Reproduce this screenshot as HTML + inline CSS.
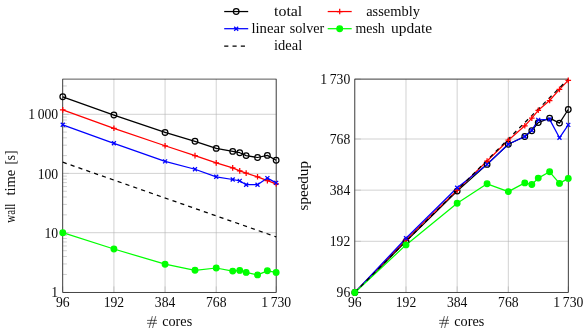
<!DOCTYPE html>
<html><head><meta charset="utf-8"><title>scaling</title>
<style>
html,body{margin:0;padding:0;background:#fff;}
body{width:588px;height:333px;overflow:hidden;}
svg{display:block;will-change:transform;}
text{font-family:"Liberation Serif",serif;font-size:14.1px;fill:#0a0a0a;}
</style></head><body>
<svg width="588" height="333" viewBox="0 0 588 333">
<rect width="588" height="333" fill="#fff"/>
<path d="M62.76 79.08V292.45M113.92 79.08V292.45M165.07 79.08V292.45M216.23 79.08V292.45M276.16 79.08V292.45M62.76 292.45H276.16M62.76 232.7H276.16M62.76 173.4H276.16M62.76 114.3H276.16" stroke="#b4b4b4" stroke-width="0.6" fill="none"/>
<path d="M62.76 292.45v-6M113.92 292.45v-6M165.07 292.45v-6M216.23 292.45v-6M276.16 292.45v-6M62.76 292.45h6M62.76 232.7h6M62.76 173.4h6M62.76 114.3h6M62.76 274.46h4.1M62.76 263.94h4.1M62.76 256.48h4.1M62.76 250.69h4.1M62.76 245.96h4.1M62.76 241.96h4.1M62.76 238.49h4.1M62.76 235.43h4.1M62.76 214.85h4.1M62.76 204.41h4.1M62.76 197h4.1M62.76 191.25h4.1M62.76 186.56h4.1M62.76 182.59h4.1M62.76 179.15h4.1M62.76 176.11h4.1M62.76 155.61h4.1M62.76 145.2h4.1M62.76 137.82h4.1M62.76 132.09h4.1M62.76 127.41h4.1M62.76 123.45h4.1M62.76 120.03h4.1M62.76 117h4.1M62.76 96.42h4.1M62.76 85.96h4.1" stroke="#b0b0b0" stroke-width="0.6" fill="none"/>
<rect x="62.76" y="79.08" width="213.4" height="213.37" fill="none" stroke="#000" stroke-width="0.66"/>
<polyline points="62.76,96.8 113.92,115.05 165.07,132.45 195,141.3 216.23,148.4 232.69,151.4 239.73,152.7 246.15,155.6 257.53,157.5 267.38,155.4 276.16,160.3" fill="none" stroke="#000" stroke-width="1.25" stroke-linejoin="round"/>
<polyline points="62.76,109.9 113.92,128.3 165.07,145.75 195,155.6 216.23,162.9 232.69,167.9 239.73,170.9 246.15,173.1 257.53,176.8 267.38,180.6 276.16,183.8" fill="none" stroke="#f00" stroke-width="1.25" stroke-linejoin="round"/>
<polyline points="62.76,124.8 113.92,143.3 165.07,161.4 195,169.25 216.23,176.8 232.69,179.5 239.73,180.85 246.15,184.7 257.53,184.7 267.38,178.1 276.16,182.9" fill="none" stroke="#00f" stroke-width="1.25" stroke-linejoin="round"/>
<polyline points="62.76,232.7 113.92,249 165.07,264.2 195,270.3 216.23,268 232.69,271.1 239.73,270.4 246.15,272.4 257.53,274.9 267.38,270.8 276.16,272.4" fill="none" stroke="#0f0" stroke-width="1.25" stroke-linejoin="round"/>
<path d="M62.76 162.2L276.16 236.86" stroke="#000" stroke-width="1.25" stroke-dasharray="4.152 4.152" fill="none"/>
<circle cx="62.76" cy="96.8" r="2.82" fill="none" stroke="#000" stroke-width="1.25"/><circle cx="113.92" cy="115.05" r="2.82" fill="none" stroke="#000" stroke-width="1.25"/><circle cx="165.07" cy="132.45" r="2.82" fill="none" stroke="#000" stroke-width="1.25"/><circle cx="195" cy="141.3" r="2.82" fill="none" stroke="#000" stroke-width="1.25"/><circle cx="216.23" cy="148.4" r="2.82" fill="none" stroke="#000" stroke-width="1.25"/><circle cx="232.69" cy="151.4" r="2.82" fill="none" stroke="#000" stroke-width="1.25"/><circle cx="239.73" cy="152.7" r="2.82" fill="none" stroke="#000" stroke-width="1.25"/><circle cx="246.15" cy="155.6" r="2.82" fill="none" stroke="#000" stroke-width="1.25"/><circle cx="257.53" cy="157.5" r="2.82" fill="none" stroke="#000" stroke-width="1.25"/><circle cx="267.38" cy="155.4" r="2.82" fill="none" stroke="#000" stroke-width="1.25"/><circle cx="276.16" cy="160.3" r="2.82" fill="none" stroke="#000" stroke-width="1.25"/>
<path d="M59.94 109.9H65.58M62.76 107.08V112.72" stroke="#f00" stroke-width="1.25" fill="none"/><path d="M111.1 128.3H116.74M113.92 125.48V131.12" stroke="#f00" stroke-width="1.25" fill="none"/><path d="M162.25 145.75H167.89M165.07 142.93V148.57" stroke="#f00" stroke-width="1.25" fill="none"/><path d="M192.18 155.6H197.82M195 152.78V158.42" stroke="#f00" stroke-width="1.25" fill="none"/><path d="M213.41 162.9H219.05M216.23 160.08V165.72" stroke="#f00" stroke-width="1.25" fill="none"/><path d="M229.87 167.9H235.51M232.69 165.08V170.72" stroke="#f00" stroke-width="1.25" fill="none"/><path d="M236.91 170.9H242.55M239.73 168.08V173.72" stroke="#f00" stroke-width="1.25" fill="none"/><path d="M243.33 173.1H248.97M246.15 170.28V175.92" stroke="#f00" stroke-width="1.25" fill="none"/><path d="M254.71 176.8H260.35M257.53 173.98V179.62" stroke="#f00" stroke-width="1.25" fill="none"/><path d="M264.56 180.6H270.2M267.38 177.78V183.42" stroke="#f00" stroke-width="1.25" fill="none"/><path d="M273.34 183.8H278.98M276.16 180.98V186.62" stroke="#f00" stroke-width="1.25" fill="none"/>
<path d="M60.77 122.81L64.75 126.79M60.77 126.79L64.75 122.81" stroke="#00f" stroke-width="1.25" fill="none"/><path d="M111.92 141.31L115.91 145.29M111.92 145.29L115.91 141.31" stroke="#00f" stroke-width="1.25" fill="none"/><path d="M163.08 159.41L167.07 163.39M163.08 163.39L167.07 159.41" stroke="#00f" stroke-width="1.25" fill="none"/><path d="M193 167.26L196.99 171.24M193 171.24L196.99 167.26" stroke="#00f" stroke-width="1.25" fill="none"/><path d="M214.23 174.81L218.22 178.79M214.23 178.79L218.22 174.81" stroke="#00f" stroke-width="1.25" fill="none"/><path d="M230.7 177.51L234.69 181.49M230.7 181.49L234.69 177.51" stroke="#00f" stroke-width="1.25" fill="none"/><path d="M237.73 178.86L241.72 182.84M237.73 182.84L241.72 178.86" stroke="#00f" stroke-width="1.25" fill="none"/><path d="M244.16 182.71L248.14 186.69M244.16 186.69L248.14 182.71" stroke="#00f" stroke-width="1.25" fill="none"/><path d="M255.53 182.71L259.52 186.69M255.53 186.69L259.52 182.71" stroke="#00f" stroke-width="1.25" fill="none"/><path d="M265.39 176.11L269.38 180.09M265.39 180.09L269.38 176.11" stroke="#00f" stroke-width="1.25" fill="none"/><path d="M274.17 180.91L278.15 184.89M274.17 184.89L278.15 180.91" stroke="#00f" stroke-width="1.25" fill="none"/>
<circle cx="62.76" cy="232.7" r="2.82" fill="#0f0" stroke="#0f0" stroke-width="1.25"/><circle cx="113.92" cy="249" r="2.82" fill="#0f0" stroke="#0f0" stroke-width="1.25"/><circle cx="165.07" cy="264.2" r="2.82" fill="#0f0" stroke="#0f0" stroke-width="1.25"/><circle cx="195" cy="270.3" r="2.82" fill="#0f0" stroke="#0f0" stroke-width="1.25"/><circle cx="216.23" cy="268" r="2.82" fill="#0f0" stroke="#0f0" stroke-width="1.25"/><circle cx="232.69" cy="271.1" r="2.82" fill="#0f0" stroke="#0f0" stroke-width="1.25"/><circle cx="239.73" cy="270.4" r="2.82" fill="#0f0" stroke="#0f0" stroke-width="1.25"/><circle cx="246.15" cy="272.4" r="2.82" fill="#0f0" stroke="#0f0" stroke-width="1.25"/><circle cx="257.53" cy="274.9" r="2.82" fill="#0f0" stroke="#0f0" stroke-width="1.25"/><circle cx="267.38" cy="270.8" r="2.82" fill="#0f0" stroke="#0f0" stroke-width="1.25"/><circle cx="276.16" cy="272.4" r="2.82" fill="#0f0" stroke="#0f0" stroke-width="1.25"/>
<text transform="translate(62.76 306.7) scale(0.97 1)" text-anchor="middle">96</text>
<text transform="translate(113.92 306.7) scale(0.97 1)" text-anchor="middle">192</text>
<text transform="translate(165.07 306.7) scale(0.97 1)" text-anchor="middle">384</text>
<text transform="translate(216.23 306.7) scale(0.97 1)" text-anchor="middle">768</text>
<text transform="translate(276.16 306.7) scale(0.97 1)" text-anchor="middle">1<tspan dx="2.8">730</tspan></text>
<text transform="translate(58.16 297.15) scale(0.97 1)" text-anchor="end">1</text>
<text transform="translate(58.16 237.9) scale(0.97 1)" text-anchor="end">10</text>
<text transform="translate(58.16 178.6) scale(0.97 1)" text-anchor="end">100</text>
<text transform="translate(58.16 119) scale(0.97 1)" text-anchor="end">1<tspan dx="2.8">000</tspan></text>
<path transform="translate(-0.04 0)" d="M147.1 320.4H157M147.1 323.3H157M152.4 316.1L149.2 328M155.8 316.1L152.6 328" stroke="#000" stroke-width="0.62" fill="none"/>
<text transform="translate(162.16 326.2) scale(1.01 1)" text-anchor="start">cores</text>
<text transform="translate(14.9 222.7) rotate(-90)" textLength="19" lengthAdjust="spacingAndGlyphs">wall</text>
<text transform="translate(14.9 195.5) rotate(-90)" textLength="25.8" lengthAdjust="spacingAndGlyphs">time</text>
<text transform="translate(14.9 164.6) rotate(-90)" textLength="14.1" lengthAdjust="spacingAndGlyphs">[s]</text>
<path d="M354.83 79.08V292.45M405.99 79.08V292.45M457.16 79.08V292.45M508.32 79.08V292.45M568.26 79.08V292.45M354.83 292.45H568.26M354.83 241.3H568.26M354.83 190.15H568.26M354.83 139.01H568.26M354.83 79.08H568.26" stroke="#b4b4b4" stroke-width="0.6" fill="none"/>
<path d="M354.83 292.45v-6M405.99 292.45v-6M457.16 292.45v-6M508.32 292.45v-6M568.26 292.45v-6M354.83 292.45h6M354.83 241.3h6M354.83 190.15h6M354.83 139.01h6M354.83 79.08h6" stroke="#b0b0b0" stroke-width="0.6" fill="none"/>
<rect x="354.83" y="79.08" width="213.43" height="213.37" fill="none" stroke="#000" stroke-width="0.66"/>
<polyline points="354.83,292.45 405.99,241.4 457.16,191.1 487.08,164.4 508.32,144.2 524.79,136.5 531.82,130.7 538.25,122.6 549.62,118.1 559.48,123.1 568.26,109.5" fill="none" stroke="#000" stroke-width="1.25" stroke-linejoin="round"/>
<polyline points="354.83,292.45 405.99,239.6 457.16,190.1 487.08,161 508.32,140.2 524.79,125.8 531.82,118.1 538.25,110.3 549.62,100.5 559.48,89.4 568.26,80.4" fill="none" stroke="#f00" stroke-width="1.25" stroke-linejoin="round"/>
<polyline points="354.83,292.45 405.99,238.3 457.16,187.7 487.08,164.4 508.32,144.2 524.79,136.5 531.82,130.3 538.25,119.9 549.62,119.4 559.48,137.8 568.26,124.9" fill="none" stroke="#00f" stroke-width="1.25" stroke-linejoin="round"/>
<polyline points="354.83,292.45 405.99,244.9 457.16,203.3 487.08,183.8 508.32,191.6 524.79,182.9 531.82,184.5 538.25,178.1 549.62,171.8 559.48,183.4 568.26,178.4" fill="none" stroke="#0f0" stroke-width="1.25" stroke-linejoin="round"/>
<path d="M354.83 292.45L568.26 79.08" stroke="#000" stroke-width="1.25" stroke-dasharray="4.152 4.152" fill="none"/>
<circle cx="354.83" cy="292.45" r="2.82" fill="none" stroke="#000" stroke-width="1.25"/><circle cx="405.99" cy="241.4" r="2.82" fill="none" stroke="#000" stroke-width="1.25"/><circle cx="457.16" cy="191.1" r="2.82" fill="none" stroke="#000" stroke-width="1.25"/><circle cx="487.08" cy="164.4" r="2.82" fill="none" stroke="#000" stroke-width="1.25"/><circle cx="508.32" cy="144.2" r="2.82" fill="none" stroke="#000" stroke-width="1.25"/><circle cx="524.79" cy="136.5" r="2.82" fill="none" stroke="#000" stroke-width="1.25"/><circle cx="531.82" cy="130.7" r="2.82" fill="none" stroke="#000" stroke-width="1.25"/><circle cx="538.25" cy="122.6" r="2.82" fill="none" stroke="#000" stroke-width="1.25"/><circle cx="549.62" cy="118.1" r="2.82" fill="none" stroke="#000" stroke-width="1.25"/><circle cx="559.48" cy="123.1" r="2.82" fill="none" stroke="#000" stroke-width="1.25"/><circle cx="568.26" cy="109.5" r="2.82" fill="none" stroke="#000" stroke-width="1.25"/>
<path d="M352.01 292.45H357.65M354.83 289.63V295.27" stroke="#f00" stroke-width="1.25" fill="none"/><path d="M403.17 239.6H408.81M405.99 236.78V242.42" stroke="#f00" stroke-width="1.25" fill="none"/><path d="M454.34 190.1H459.98M457.16 187.28V192.92" stroke="#f00" stroke-width="1.25" fill="none"/><path d="M484.26 161H489.9M487.08 158.18V163.82" stroke="#f00" stroke-width="1.25" fill="none"/><path d="M505.5 140.2H511.14M508.32 137.38V143.02" stroke="#f00" stroke-width="1.25" fill="none"/><path d="M521.97 125.8H527.61M524.79 122.98V128.62" stroke="#f00" stroke-width="1.25" fill="none"/><path d="M529 118.1H534.64M531.82 115.28V120.92" stroke="#f00" stroke-width="1.25" fill="none"/><path d="M535.43 110.3H541.07M538.25 107.48V113.12" stroke="#f00" stroke-width="1.25" fill="none"/><path d="M546.8 100.5H552.44M549.62 97.68V103.32" stroke="#f00" stroke-width="1.25" fill="none"/><path d="M556.66 89.4H562.3M559.48 86.58V92.22" stroke="#f00" stroke-width="1.25" fill="none"/><path d="M565.44 80.4H571.08M568.26 77.58V83.22" stroke="#f00" stroke-width="1.25" fill="none"/>
<path d="M352.84 290.46L356.82 294.44M352.84 294.44L356.82 290.46" stroke="#00f" stroke-width="1.25" fill="none"/><path d="M404 236.31L407.99 240.29M404 240.29L407.99 236.31" stroke="#00f" stroke-width="1.25" fill="none"/><path d="M455.16 185.71L459.15 189.69M455.16 189.69L459.15 185.71" stroke="#00f" stroke-width="1.25" fill="none"/><path d="M485.09 162.41L489.08 166.39M485.09 166.39L489.08 162.41" stroke="#00f" stroke-width="1.25" fill="none"/><path d="M506.32 142.21L510.31 146.19M506.32 146.19L510.31 142.21" stroke="#00f" stroke-width="1.25" fill="none"/><path d="M522.79 134.51L526.78 138.49M522.79 138.49L526.78 134.51" stroke="#00f" stroke-width="1.25" fill="none"/><path d="M529.83 128.31L533.82 132.29M529.83 132.29L533.82 128.31" stroke="#00f" stroke-width="1.25" fill="none"/><path d="M536.25 117.91L540.24 121.89M536.25 121.89L540.24 117.91" stroke="#00f" stroke-width="1.25" fill="none"/><path d="M547.63 117.41L551.62 121.39M547.63 121.39L551.62 117.41" stroke="#00f" stroke-width="1.25" fill="none"/><path d="M557.49 135.81L561.47 139.79M557.49 139.79L561.47 135.81" stroke="#00f" stroke-width="1.25" fill="none"/><path d="M566.27 122.91L570.25 126.89M566.27 126.89L570.25 122.91" stroke="#00f" stroke-width="1.25" fill="none"/>
<circle cx="354.83" cy="292.45" r="2.82" fill="#0f0" stroke="#0f0" stroke-width="1.25"/><circle cx="405.99" cy="244.9" r="2.82" fill="#0f0" stroke="#0f0" stroke-width="1.25"/><circle cx="457.16" cy="203.3" r="2.82" fill="#0f0" stroke="#0f0" stroke-width="1.25"/><circle cx="487.08" cy="183.8" r="2.82" fill="#0f0" stroke="#0f0" stroke-width="1.25"/><circle cx="508.32" cy="191.6" r="2.82" fill="#0f0" stroke="#0f0" stroke-width="1.25"/><circle cx="524.79" cy="182.9" r="2.82" fill="#0f0" stroke="#0f0" stroke-width="1.25"/><circle cx="531.82" cy="184.5" r="2.82" fill="#0f0" stroke="#0f0" stroke-width="1.25"/><circle cx="538.25" cy="178.1" r="2.82" fill="#0f0" stroke="#0f0" stroke-width="1.25"/><circle cx="549.62" cy="171.8" r="2.82" fill="#0f0" stroke="#0f0" stroke-width="1.25"/><circle cx="559.48" cy="183.4" r="2.82" fill="#0f0" stroke="#0f0" stroke-width="1.25"/><circle cx="568.26" cy="178.4" r="2.82" fill="#0f0" stroke="#0f0" stroke-width="1.25"/>
<text transform="translate(354.83 306.7) scale(0.97 1)" text-anchor="middle">96</text>
<text transform="translate(405.99 306.7) scale(0.97 1)" text-anchor="middle">192</text>
<text transform="translate(457.16 306.7) scale(0.97 1)" text-anchor="middle">384</text>
<text transform="translate(508.32 306.7) scale(0.97 1)" text-anchor="middle">768</text>
<text transform="translate(568.26 306.7) scale(0.97 1)" text-anchor="middle">1<tspan dx="2.8">730</tspan></text>
<text transform="translate(350.23 297.15) scale(0.97 1)" text-anchor="end">96</text>
<text transform="translate(350.23 246) scale(0.97 1)" text-anchor="end">192</text>
<text transform="translate(350.23 194.85) scale(0.97 1)" text-anchor="end">384</text>
<text transform="translate(350.23 143.71) scale(0.97 1)" text-anchor="end">768</text>
<text transform="translate(350.23 83.78) scale(0.97 1)" text-anchor="end">1<tspan dx="2.8">730</tspan></text>
<path transform="translate(292.04 0)" d="M147.1 320.4H157M147.1 323.3H157M152.4 316.1L149.2 328M155.8 316.1L152.6 328" stroke="#000" stroke-width="0.62" fill="none"/>
<text transform="translate(454.24 326.2) scale(1.01 1)" text-anchor="start">cores</text>
<text transform="translate(307.6 185.76) rotate(-90) scale(1.07 1)" text-anchor="middle">speedup</text>
<path d="M224.2 11.55h24" stroke="#000" stroke-width="1.25" fill="none"/><circle cx="236.2" cy="11.55" r="2.82" fill="none" stroke="#000" stroke-width="1.25"/>
<path d="M224.2 28.7h24" stroke="#00f" stroke-width="1.25" fill="none"/><path d="M234.21 26.71L238.19 30.69M234.21 30.69L238.19 26.71" stroke="#00f" stroke-width="1.25" fill="none"/>
<path d="M224.2 46.1h24" stroke="#000" stroke-width="1.25" fill="none" stroke-dasharray="4.152 4.152"/>
<path d="M327.7 11.55h24" stroke="#f00" stroke-width="1.25" fill="none"/><path d="M336.88 11.55H342.52M339.7 8.73V14.37" stroke="#f00" stroke-width="1.25" fill="none"/>
<path d="M327.7 28.7h24" stroke="#0f0" stroke-width="1.25" fill="none"/><circle cx="339.7" cy="28.7" r="2.82" fill="#0f0" stroke="#0f0" stroke-width="1.25"/>
<text transform="translate(274 15.5)" textLength="28.3" lengthAdjust="spacingAndGlyphs">total</text>
<text transform="translate(251.4 32.6)" textLength="33.5" lengthAdjust="spacingAndGlyphs">linear</text>
<text transform="translate(289.7 32.6)" textLength="34.5" lengthAdjust="spacingAndGlyphs">solver</text>
<text transform="translate(274 49.55)" textLength="28.2" lengthAdjust="spacingAndGlyphs">ideal</text>
<text transform="translate(366.2 15.5)" textLength="53.7" lengthAdjust="spacingAndGlyphs">assembly</text>
<text transform="translate(355.5 32.6)" textLength="29.2" lengthAdjust="spacingAndGlyphs">mesh</text>
<text transform="translate(391 32.6)" textLength="41.2" lengthAdjust="spacingAndGlyphs">update</text>
</svg>
</body></html>
